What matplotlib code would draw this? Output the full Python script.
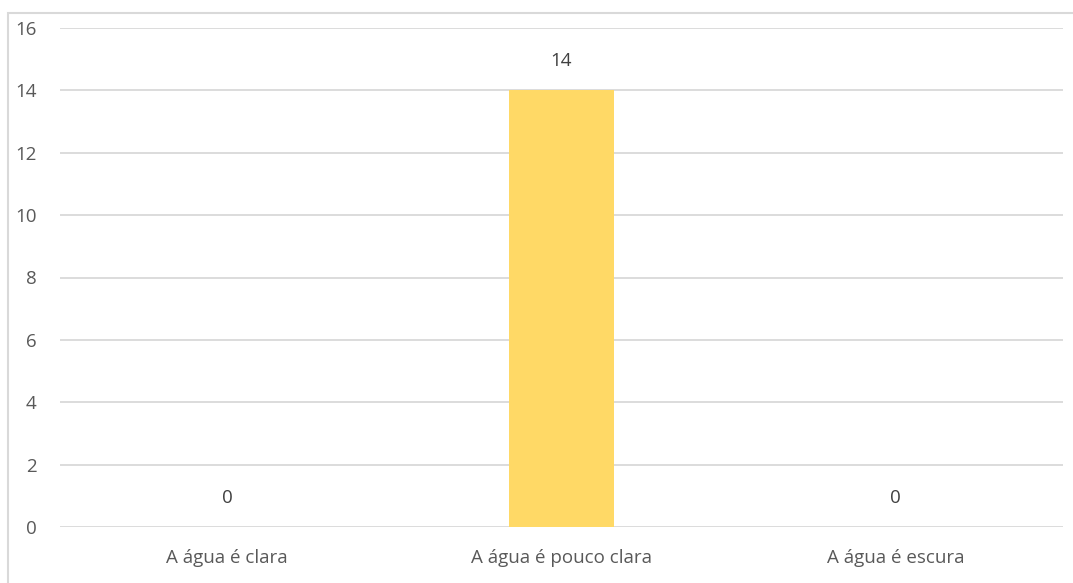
import matplotlib
matplotlib.use("Agg")
import matplotlib.pyplot as plt
from matplotlib.patches import Rectangle

categories = ["A água é clara", "A água é pouco clara", "A água é escura"]
values = [0, 14, 0]
yticks = [0, 2, 4, 6, 8, 10, 12, 14, 16]

W, H = 1073, 583
fig = plt.figure(figsize=(W / 100, H / 100), dpi=100)
plt.rcParams['font.family'] = ['Open Sans', 'DejaVu Sans']

# outer chart border (cropped on right and bottom)
fig.patches.append(Rectangle((8 / W, -0.1), 1.2, 1 - 13 / H + 0.1, transform=fig.transFigure,
                             fill=False, edgecolor="#D9D9D9", linewidth=1.5))

ax = fig.add_axes([60 / W, 1 - 527 / H, (1063 - 60) / W, (527 - 28) / H])
x = list(range(len(categories)))
ax.bar(x, values, width=0.314, color="#FFD966", zorder=3)
ax.set_xlim(-0.5, 2.5)
ax.set_ylim(0, 16)
ax.set_yticks(yticks)
ax.set_xticks(x)
ax.set_xticklabels(categories)
ax.grid(axis="y", color="#D9D9D9", linewidth=1.3, zorder=0)
for s in ax.spines.values():
    s.set_visible(False)
ax.tick_params(axis="both", length=0, colors="#595959", labelsize=13.5)
ax.tick_params(axis="y", pad=17)
ax.tick_params(axis="x", pad=16)
for xi, v in zip(x, values):
    ax.annotate(str(v), (xi, v), xytext=(0, 21), textcoords="offset points",
                ha="center", va="center", fontsize=13.5, color="#404040")

fig.savefig("out.png", dpi=100)
